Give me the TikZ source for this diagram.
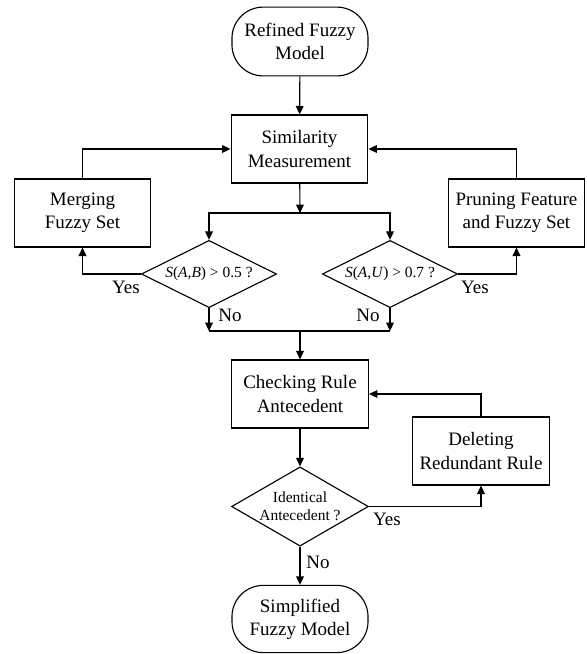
\documentclass[tikz,border=0pt]{standalone}
\usepackage{fontspec}
\setmainfont{Liberation Serif}
\usetikzlibrary{arrows.meta,shapes.geometric}
\tikzstyle{term}=[rectangle,rounded corners=0.78cm,draw=black,line width=0.8pt,
  minimum width=3.4cm,minimum height=1.72cm,align=center,
  font=\fontsize{13.5}{16.5}\selectfont]
\tikzstyle{proc}=[rectangle,draw=black,line width=0.8pt,inner sep=2pt,
  minimum width=3.42cm,minimum height=1.7cm,align=center,
  font=\fontsize{13.5}{16.5}\selectfont]
\tikzstyle{dec}=[diamond,aspect=2,draw=black,line width=0.8pt,inner xsep=-6pt,
  inner ysep=0pt,minimum width=3.38cm,minimum height=1.68cm,align=center,
  font=\fontsize{11}{13}\selectfont]
\tikzstyle{lbl}=[inner sep=0pt,font=\fontsize{13.5}{16.5}\selectfont]
\tikzstyle{flow}=[line width=0.8pt,-{Triangle[length=6pt,width=5.5pt]}]
\tikzstyle{none}=[]

\begin{document}
\begin{tikzpicture}[x=0.025cm,y=-0.025cm]
            \useasboundingbox (0,0) rectangle (587,654);
            \node [style=term] (0) at (300,41.5) {Refined Fuzzy\\Model};
            \node [style=proc] (1) at (299.5,149) {Similarity\\Measurement};
            \node [style=proc] (2) at (82.5,213) {Merging\\Fuzzy Set};
            \node [style=proc] (3) at (516.5,213) {Pruning Feature\\and Fuzzy Set};
            \node [style=dec] (4) at (209,274) {\textit{S}(\textit{A},\textit{B}) > 0.5 ?};
            \node [style=dec] (5) at (390,274) {\textit{S}(\textit{A},\textit{U}) > 0.7 ?};
            \node [style=proc] (6) at (300,394) {Checking Rule\\Antecedent};
            \node [style=proc] (7) at (481,451) {Deleting\\Redundant Rule};
            \node [style=dec, minimum width=3.42cm, minimum height=1.98cm] (8) at (300,506.5) {Identical\\Antecedent ?};
            \node [style=term, minimum height=1.68cm] (9) at (300,619) {Simplified\\Fuzzy Model};
            \coordinate (10) at (300,213);
            \coordinate (11) at (209,331);
            \coordinate (12) at (390,331);
            \coordinate (13) at (300,331);
            \node [style=lbl] (14) at (126,287) {Yes};
            \node [style=lbl] (15) at (475,287) {Yes};
            \node [style=lbl] (16) at (230,315) {No};
            \node [style=lbl] (17) at (368,315) {No};
            \node [style=lbl] (18) at (387,519) {Yes};
            \node [style=lbl] (19) at (318,562) {No};
            \draw [style=flow] (0) to (1);
            \draw [style=flow] (1) to (10);
            \draw [style=flow] (10) -| (4.north);
            \draw [style=flow] (10) -| (5.north);
            \draw [style=flow] (4.west) -| (2.south);
            \draw [style=flow] (5.east) -| (3.south);
            \draw [style=flow] (2.north) |- (1.west);
            \draw [style=flow] (3.north) |- (1.east);
            \draw [style=flow] (4.south) to (11);
            \draw [style=flow] (5.south) to (12);
            \draw [line width=0.8pt] (11) to (12);
            \draw [style=flow] (13) to (6);
            \draw [style=flow] (6) to (8);
            \draw [style=flow] (8.east) -| (7.south);
            \draw [style=flow] (7.north) |- (6.east);
            \draw [style=flow] (8) to (9);
    \end{tikzpicture}
\end{document}
